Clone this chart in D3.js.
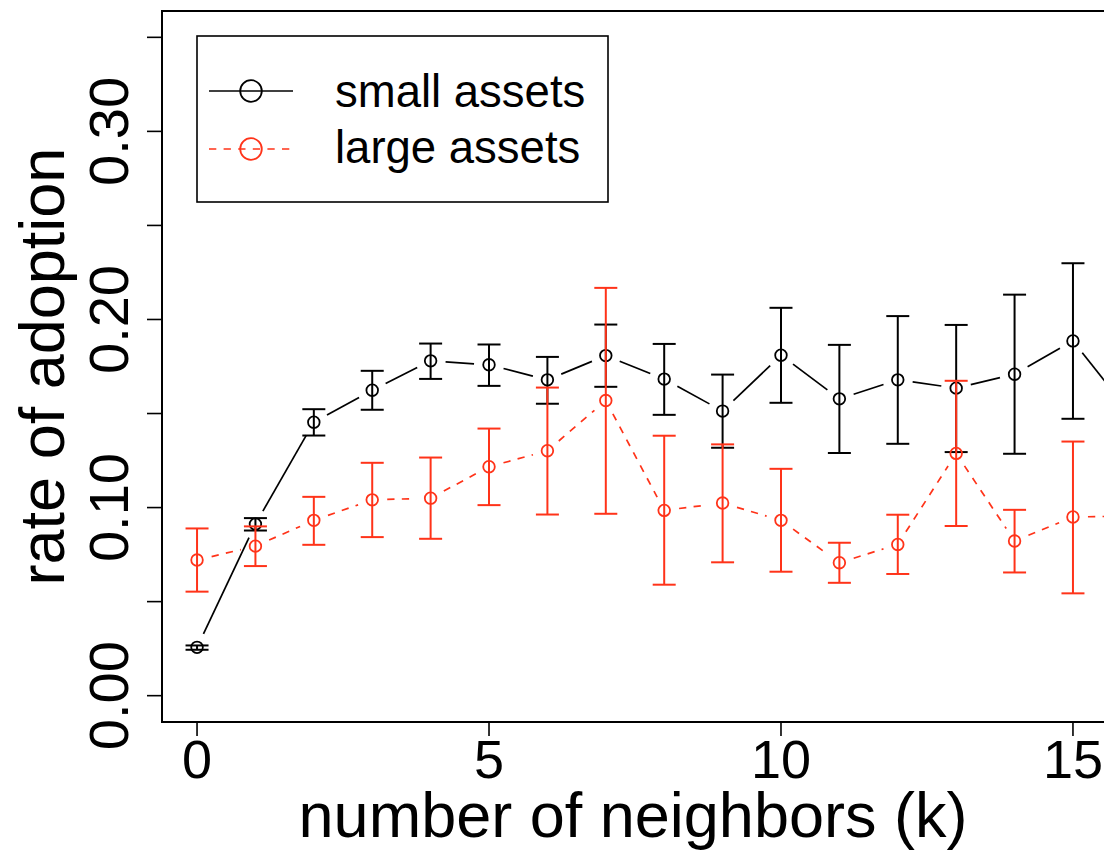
<!DOCTYPE html>
<html>
<head>
<meta charset="utf-8">
<script src="https://cdn.jsdelivr.net/npm/d3@7"></script>
<style>
  html, body { margin: 0; padding: 0; background: #fff; overflow: hidden; }
  svg { display: block; font-family: "Liberation Sans", Arial, Helvetica, sans-serif; }
</style>
</head>
<body>
<div id="chart"></div>
<script>
// number of neighbours
const neighbors = [0, 1, 2, 3, 4, 5, 6, 7, 8, 9, 10, 11, 12, 13, 14, 15, 16];

// small assets: mean and error bar bounds
const smallMean = [0.0257, 0.0912, 0.1454, 0.1624, 0.1780, 0.1759, 0.1679, 0.1808, 0.1683, 0.1513, 0.1810, 0.1578, 0.1679, 0.1635, 0.1709, 0.1886, 0.1495];
const smallLow  = [0.0244, 0.0878, 0.1383, 0.1520, 0.1684, 0.1647, 0.1552, 0.1642, 0.1493, 0.1318, 0.1557, 0.1290, 0.1339, 0.1295, 0.1286, 0.1472, 0.1200];
const smallHigh = [0.0267, 0.0944, 0.1523, 0.1727, 0.1872, 0.1867, 0.1801, 0.1973, 0.1870, 0.1707, 0.2062, 0.1865, 0.2018, 0.1971, 0.2132, 0.2299, 0.1800];

// large assets: mean and error bar bounds
const largeMean = [0.0721, 0.0795, 0.0932, 0.1041, 0.1050, 0.1217, 0.1302, 0.1569, 0.0985, 0.1024, 0.0932, 0.0707, 0.0804, 0.1288, 0.0822, 0.0950, 0.0955];
const largeLow  = [0.0553, 0.0689, 0.0802, 0.0843, 0.0834, 0.1013, 0.0963, 0.0967, 0.0590, 0.0709, 0.0659, 0.0600, 0.0647, 0.0902, 0.0655, 0.0544, 0.0700];
const largeHigh = [0.0889, 0.0900, 0.1057, 0.1238, 0.1266, 0.1420, 0.1638, 0.2168, 0.1382, 0.1336, 0.1206, 0.0813, 0.0962, 0.1674, 0.0988, 0.1351, 0.1200];

const xTicks = [0, 5, 10, 15];
const yTicks = [0, 0.05, 0.10, 0.15, 0.20, 0.25, 0.30, 0.35];
const yTickLabels = ['0.00', '', '0.10', '', '0.20', '', '0.30', ''];
const legendLabels = ['small assets', 'large assets'];

const W = 1104, H = 853;
const box = { left: 162, right: 1108, top: 11, bottom: 722 };
const RED = '#ff3319';

const svg = d3.select('#chart').append('svg')
    .attr('width', W)
    .attr('height', H);

const x = d3.scaleLinear().domain([-0.6, 15.6]).range([box.left, box.right]);
const y = d3.scaleLinear().domain([-0.014, 0.364]).range([box.bottom, box.top]);

svg.append('clipPath').attr('id', 'plotclip')
    .append('rect')
    .attr('x', box.left).attr('y', box.top)
    .attr('width', box.right - box.left).attr('height', box.bottom - box.top);

const plot = svg.append('g').attr('clip-path', 'url(#plotclip)');

// draws one series like R's type="b" plus arrows() error bars
function drawSeries(mean, low, high, color, dash) {
    const pts = neighbors.map((k, i) => [x(k), y(mean[i])]);
    const gap = 15;
    const g = plot.append('g');

    for (let i = 0; i < pts.length - 1; i++) {
        const [x1, y1] = pts[i];
        const [x2, y2] = pts[i + 1];
        const len = Math.hypot(x2 - x1, y2 - y1);
        if (len <= 2 * gap) continue;
        const ux = (x2 - x1) / len, uy = (y2 - y1) / len;
        g.append('line')
            .attr('x1', x1 + ux * gap).attr('y1', y1 + uy * gap)
            .attr('x2', x2 - ux * gap).attr('y2', y2 - uy * gap)
            .attr('stroke', color)
            .attr('stroke-width', 1.7)
            .attr('stroke-dasharray', dash);
    }

    neighbors.forEach((k, i) => {
        const cx = x(k);
        g.append('line')
            .attr('x1', cx).attr('x2', cx)
            .attr('y1', y(low[i])).attr('y2', y(high[i]))
            .attr('stroke', color).attr('stroke-width', 2);
        [low[i], high[i]].forEach(v => {
            g.append('line')
                .attr('x1', cx - 11.5).attr('x2', cx + 11.5)
                .attr('y1', y(v)).attr('y2', y(v))
                .attr('stroke', color).attr('stroke-width', 2);
        });
    });

    g.selectAll('circle.pt')
        .data(pts)
        .enter().append('circle')
        .attr('class', 'pt')
        .attr('cx', d => d[0])
        .attr('cy', d => d[1])
        .attr('r', 5.8)
        .attr('fill', 'none')
        .attr('stroke', color)
        .attr('stroke-width', 1.8);
}

drawSeries(smallMean, smallLow, smallHigh, '#000', null);
drawSeries(largeMean, largeLow, largeHigh, RED, '7.3,7.3');

// plot frame
svg.append('rect')
    .attr('x', box.left).attr('y', box.top)
    .attr('width', box.right - box.left).attr('height', box.bottom - box.top)
    .attr('fill', 'none').attr('stroke', '#000').attr('stroke-width', 2);

// y axis
yTicks.forEach((t, i) => {
    svg.append('line')
        .attr('x1', box.left - 15).attr('x2', box.left)
        .attr('y1', y(t)).attr('y2', y(t))
        .attr('stroke', '#000').attr('stroke-width', 1.6);
    if (yTickLabels[i]) {
        svg.append('text')
            .attr('transform', `translate(128,${y(t)}) rotate(-90)`)
            .attr('text-anchor', 'middle')
            .attr('font-size', 56)
            .text(yTickLabels[i]);
    }
});

// x axis
xTicks.forEach(t => {
    svg.append('line')
        .attr('x1', x(t)).attr('x2', x(t))
        .attr('y1', box.bottom).attr('y2', box.bottom + 14)
        .attr('stroke', '#000').attr('stroke-width', 1.6);
    svg.append('text')
        .attr('x', x(t)).attr('y', 778)
        .attr('text-anchor', 'middle')
        .attr('font-size', 54)
        .text(t);
});

svg.append('text')
    .attr('x', (box.left + box.right) / 2 - 2).attr('y', 837)
    .attr('text-anchor', 'middle')
    .attr('font-size', 63)
    .text('number of neighbors (k)');

svg.append('text')
    .attr('transform', `translate(64,${(box.top + box.bottom) / 2}) rotate(-90)`)
    .attr('text-anchor', 'middle')
    .attr('font-size', 63)
    .text('rate of adoption');

// legend
const legend = svg.append('g');
legend.append('rect')
    .attr('x', 197).attr('y', 36)
    .attr('width', 411).attr('height', 166)
    .attr('fill', '#fff').attr('stroke', '#000').attr('stroke-width', 1.6);

const legendRows = [
    { label: legendLabels[0], color: '#000', dash: null, ly: 91, ty: 107 },
    { label: legendLabels[1], color: RED, dash: '7.3,7.3', ly: 149, ty: 163 },
];
legendRows.forEach(r => {
    legend.append('line')
        .attr('x1', 209).attr('x2', 293)
        .attr('y1', r.ly).attr('y2', r.ly)
        .attr('stroke', r.color).attr('stroke-width', 1.6)
        .attr('stroke-dasharray', r.dash);
    legend.append('circle')
        .attr('cx', 251).attr('cy', r.ly).attr('r', 10.8)
        .attr('fill', 'none').attr('stroke', r.color).attr('stroke-width', 1.8);
    legend.append('text')
        .attr('x', 335).attr('y', r.ty)
        .attr('font-size', 45.5)
        .text(r.label);
});
</script>
</body>
</html>
